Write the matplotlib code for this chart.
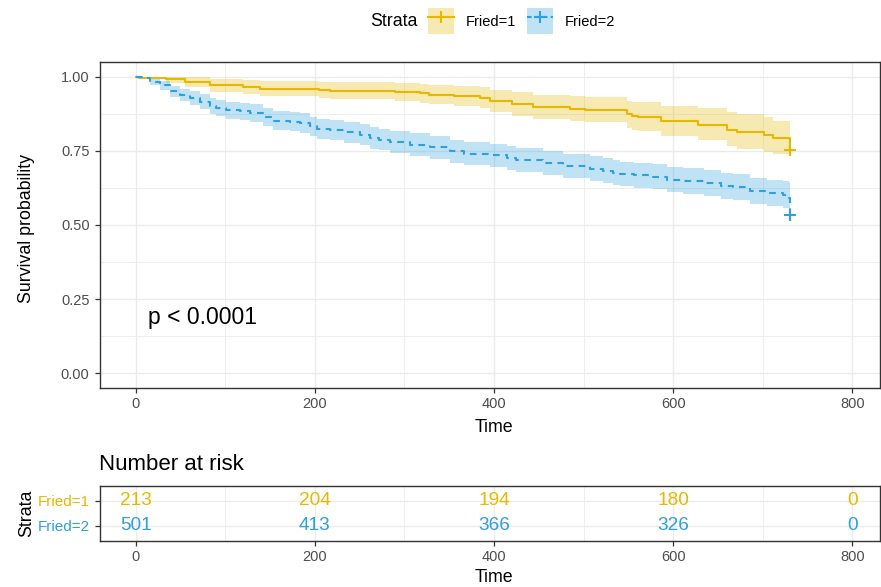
import numpy as np
import matplotlib
matplotlib.use("Agg")
import matplotlib.pyplot as plt
from matplotlib.lines import Line2D
from matplotlib.patches import Patch
from matplotlib.ticker import MultipleLocator

plt.rcParams["font.family"] = ["Liberation Sans", "DejaVu Sans"]

# ── data ────────────────────────────────────────────────────────────────────
strata = ["Fried=1", "Fried=2"]
colors = ["#E7B800", "#2E9FDF"]

# Fried=1 KM steps
t1 = [0, 4, 34, 55, 83, 120, 139, 204, 217, 289, 317, 327, 355, 384, 396, 420,
      444, 485, 502, 548, 554, 561, 587, 628, 660, 671, 701, 712, 731]
s1 = [1.0, 0.997, 0.991, 0.983, 0.971, 0.965, 0.960, 0.957, 0.952, 0.948, 0.944,
      0.940, 0.936, 0.929, 0.918, 0.907, 0.898, 0.893, 0.889, 0.873, 0.867, 0.864,
      0.850, 0.839, 0.822, 0.813, 0.803, 0.792, 0.752]
lo1 = [1.0, 0.991, 0.978, 0.966, 0.950, 0.941, 0.934, 0.930, 0.924, 0.918, 0.913,
       0.908, 0.903, 0.894, 0.881, 0.868, 0.858, 0.851, 0.846, 0.827, 0.820, 0.816,
       0.800, 0.787, 0.768, 0.758, 0.746, 0.740, 0.740]
hi1 = [1.0, 1.0, 1.0, 0.999, 0.993, 0.989, 0.986, 0.984, 0.981, 0.978, 0.975,
       0.972, 0.969, 0.964, 0.956, 0.948, 0.940, 0.936, 0.933, 0.920, 0.916, 0.914,
       0.903, 0.895, 0.880, 0.873, 0.865, 0.852, 0.852]

# Fried=2 KM steps
t2 = [0, 8, 16, 27, 38, 49, 60, 72, 83, 90, 101, 116, 127, 142, 153, 172, 183,
      194, 202, 217, 232, 250, 261, 271, 284, 306, 328, 351, 366, 396, 414, 425,
      455, 477, 507, 522, 533, 541, 556, 578, 593, 611, 634, 653, 667, 686, 705,
      723, 729, 731]
s2 = [1.0, 0.997, 0.983, 0.972, 0.952, 0.938, 0.929, 0.916, 0.901, 0.895, 0.887,
      0.884, 0.878, 0.864, 0.852, 0.848, 0.845, 0.833, 0.825, 0.820, 0.813, 0.805,
      0.794, 0.788, 0.780, 0.771, 0.762, 0.749, 0.740, 0.735, 0.726, 0.720, 0.709,
      0.698, 0.690, 0.683, 0.676, 0.672, 0.668, 0.663, 0.653, 0.648, 0.641, 0.631,
      0.627, 0.616, 0.608, 0.602, 0.591, 0.535]
lo2 = [1.0, 0.992, 0.972, 0.957, 0.933, 0.917, 0.906, 0.891, 0.874, 0.867, 0.858,
       0.855, 0.848, 0.833, 0.820, 0.816, 0.812, 0.800, 0.791, 0.786, 0.778, 0.770,
       0.758, 0.752, 0.743, 0.733, 0.724, 0.710, 0.701, 0.696, 0.686, 0.680, 0.668,
       0.657, 0.648, 0.641, 0.634, 0.630, 0.626, 0.620, 0.610, 0.605, 0.598, 0.587,
       0.583, 0.572, 0.564, 0.557, 0.550, 0.550]
hi2 = [1.0, 1.0, 0.994, 0.986, 0.970, 0.959, 0.952, 0.941, 0.928, 0.923, 0.916,
       0.913, 0.908, 0.895, 0.884, 0.880, 0.878, 0.866, 0.859, 0.854, 0.848, 0.840,
       0.830, 0.824, 0.817, 0.809, 0.800, 0.788, 0.779, 0.774, 0.766, 0.760, 0.750,
       0.739, 0.732, 0.725, 0.718, 0.714, 0.710, 0.706, 0.696, 0.691, 0.684, 0.675,
       0.671, 0.660, 0.652, 0.647, 0.645, 0.645]

# censor marks at end of follow-up
cens_t = [730, 730]
cens_s = [0.752, 0.535]

risk_times = [0, 200, 400, 600, 800]
risk1 = [213, 204, 194, 180, 0]
risk2 = [501, 413, 366, 326, 0]

pval_text = "p < 0.0001"

# ── figure ──────────────────────────────────────────────────────────────────
W, H = 881, 587
fig = plt.figure(figsize=(W / 100, H / 100), dpi=100)

ax = fig.add_axes([100 / W, (H - 388) / H, 780 / W, 326 / H])
rt = fig.add_axes([100 / W, (H - 540.7) / H, 780 / W, 54.7 / H])

tick_grey = "#4D4D4D"
border = "#333333"
grid_c = "#EBEBEB"


def style_axes(a):
    for sp in a.spines.values():
        sp.set_color(border)
        sp.set_linewidth(1.0)
    a.set_axisbelow(True)
    a.grid(True, which="major", color=grid_c, linewidth=1.0)
    a.grid(True, which="minor", color=grid_c, linewidth=0.6)
    a.tick_params(which="major", length=3.5, width=0.9, color=border,
                  labelcolor=tick_grey, labelsize=10.5)
    a.tick_params(which="minor", length=0)


# main KM panel
series = [(t1, s1, lo1, hi1, "-"), (t2, s2, lo2, hi2, (0, (3.2, 2.6)))]
for (t, s, lo, hi, ls), c in zip(series, colors):
    ax.fill_between(t, lo, hi, step="post", color=c, alpha=0.3, linewidth=0)
    ax.step(t, s, where="post", color=c, linewidth=1.5, linestyle=ls)
for ct, cs, c in zip(cens_t, cens_s, colors):
    ax.plot([ct], [cs], marker="+", color=c, markersize=9, mew=1.5)

ax.set_xlim(-40, 831)
ax.set_ylim(-0.05, 1.05)
ax.set_xticks([0, 200, 400, 600, 800])
ax.set_yticks([0, 0.25, 0.5, 0.75, 1.0])
ax.set_yticklabels(["0.00", "0.25", "0.50", "0.75", "1.00"])
ax.xaxis.set_minor_locator(MultipleLocator(100))
ax.yaxis.set_minor_locator(MultipleLocator(0.125))
style_axes(ax)
ax.tick_params(axis="x", pad=3)
ax.tick_params(axis="y", pad=4)

ax.text(13.8, 0.167, pval_text, fontsize=16.5, va="baseline", ha="left")

fig.text(27 / W, 1 - 228 / H, "Survival probability", rotation=90,
         fontsize=12.8, ha="center", va="center")
fig.text(494 / W, 1 - 427 / H, "Time", fontsize=12.8, ha="center", va="center")

# legend
handles = []
for c, ls in zip(colors, ["-", (0, (2.2, 1.6))]):
    handles.append((Patch(facecolor=c, alpha=0.3, edgecolor="none"),
                    Line2D([], [], color=c, linestyle=ls, linewidth=1.5,
                           marker="+", markersize=9, mew=1.5)))
fig.legend(handles, strata, ncol=2, loc="center left",
           bbox_to_anchor=(428 / W, 1 - 21 / H), frameon=False, fontsize=10.5,
           handlelength=1.8, handleheight=2.3, handletextpad=0.8,
           columnspacing=0.75, borderpad=0, borderaxespad=0)
fig.text(418 / W, 1 - 21 / H, "Strata", fontsize=12.8, ha="right", va="center")

# risk table
for i, (vals, c) in enumerate(zip([risk1, risk2], colors)):
    ypos = 2 - i
    for x, v in zip(risk_times, vals):
        rt.text(x, ypos, str(v), color=c, fontsize=13.7, ha="center",
                va="center")

rt.set_xlim(-40, 831)
rt.set_ylim(0.4, 2.6)
rt.set_xticks([0, 200, 400, 600, 800])
rt.xaxis.set_minor_locator(MultipleLocator(100))
rt.set_yticks([2, 1])
rt.set_yticklabels(strata)
style_axes(rt)
rt.tick_params(axis="y", labelsize=11, pad=4)
rt.tick_params(axis="x", pad=3)
for lab, c in zip(rt.get_yticklabels(), colors):
    lab.set_color(c)

fig.text(99 / W, 1 - 465 / H, "Number at risk", fontsize=16, ha="left",
         va="center")
fig.text(27 / W, 1 - 513 / H, "Strata", rotation=90, fontsize=12.8,
         ha="center", va="center")
fig.text(494 / W, 1 - 577 / H, "Time", fontsize=12.8, ha="center", va="center")

fig.savefig("out.png", dpi=100)
